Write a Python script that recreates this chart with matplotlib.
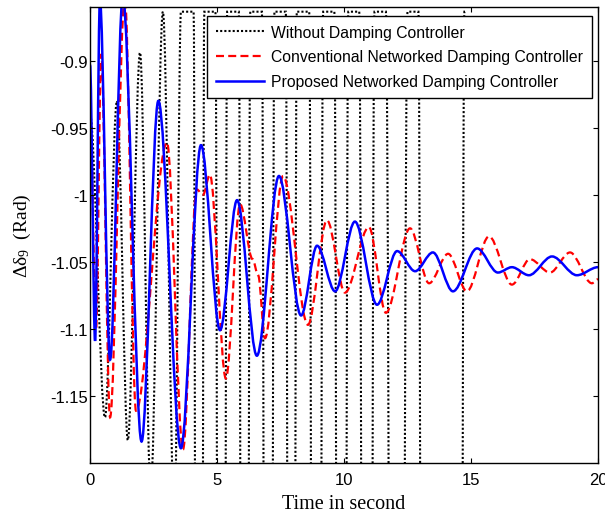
import matplotlib
matplotlib.use("Agg")
import matplotlib.pyplot as plt
from matplotlib.path import Path
from matplotlib.patches import PathPatch

# Turning points (time in s, rotor angle deviation in rad) of each response
t_none = [0.00, 0.59, 1.06, 1.49, 1.97, 2.39, 2.87, 3.33, 3.58,
          4.08, 4.29, 4.50, 4.94, 5.17, 5.40, 5.86, 6.085, 6.31,
          6.77, 7.015, 7.26, 7.71, 7.925, 8.14, 8.63, 8.905, 9.18,
          9.62, 9.895, 10.17, 10.60, 10.90, 11.20, 11.65, 12.075, 12.50,
          12.93, 13.20, 14.47, 14.74, 14.80]
d_none = [-0.940, -1.166, -0.930, -1.183, -0.894, -1.220, -0.8635, -1.2475, -0.8635,
          -0.8635, -3.0, -0.8635, -0.8635, -3.0, -0.8635, -0.8635, -3.0, -0.8635,
          -0.8635, -3.0, -0.8635, -0.8635, -3.0, -0.8635, -0.8635, -3.0, -0.8635,
          -0.8635, -3.0, -0.8635, -0.8635, -3.0, -0.8635, -0.8635, -3.0, -0.8635,
          -0.8635, -3.0, -3.0, -0.8635, -0.8635]

t_conv = [0.00, 0.24, 0.44, 0.79, 1.37, 1.81, 3.03, 3.66, 4.20, 4.45, 4.72,
          5.35, 5.91, 6.40, 6.62, 6.89, 7.60, 8.58, 9.33, 10.04, 10.98, 11.65,
          12.60, 13.35, 14.10, 14.84, 15.71, 16.61, 17.32, 18.11, 18.90, 19.76, 20.00]
d_conv = [-0.937, -1.100, -0.895, -1.166, -0.852, -1.161, -0.961, -1.190, -0.996, -1.000, -0.985,
          -1.137, -1.007, -1.048, -1.060, -1.107, -0.986, -1.097, -1.019, -1.073, -1.024, -1.088,
          -1.025, -1.066, -1.044, -1.072, -1.031, -1.067, -1.048, -1.058, -1.043, -1.066, -1.063]

t_prop = [0.00, 0.20, 0.39, 0.79, 1.29, 2.03, 2.69, 3.58, 4.37, 5.12, 5.79, 6.57,
          7.44, 8.31, 8.94, 9.65, 10.43, 11.30, 12.09, 12.80, 13.50, 14.29, 15.24,
          16.06, 16.61, 17.28, 18.19, 19.17, 20.00]
d_prop = [-0.903, -1.109, -0.855, -1.123, -0.852, -1.184, -0.930, -1.189, -0.963, -1.101, -1.004, -1.120,
          -0.986, -1.090, -1.038, -1.072, -1.020, -1.082, -1.042, -1.057, -1.043, -1.072, -1.040,
          -1.058, -1.054, -1.060, -1.046, -1.060, -1.054]

labels = ["Without Damping Controller",
          "Conventional Networked Damping Controller",
          "Proposed Networked Damping Controller"]
x_ticks = [0, 5, 10, 15, 20]
y_ticks = [-0.9, -0.95, -1.0, -1.05, -1.1, -1.15]
y_tick_labels = ["-0.9", "-0.95", "-1", "-1.05", "-1.1", "-1.15"]

plt.rcParams["font.family"] = ["Liberation Sans", "DejaVu Sans"]
plt.rcParams["mathtext.fontset"] = "custom"
plt.rcParams["mathtext.rm"] = "Liberation Serif"
plt.rcParams["mathtext.it"] = "Liberation Serif:italic"


def smooth_path(t, y):
    """Cubic segments between successive turning points, flat at each turning point."""
    verts = [(t[0], y[0])]
    codes = [Path.MOVETO]
    for i in range(1, len(t)):
        dt = t[i] - t[i - 1]
        verts += [(t[i - 1] + dt / 3.0, y[i - 1]), (t[i] - dt / 3.0, y[i]), (t[i], y[i])]
        codes += [Path.CURVE4] * 3
    return Path(verts, codes)


fig = plt.figure(figsize=(6.05, 5.10), dpi=100)
ax = fig.add_axes([90 / 605, 46 / 510, 508 / 605, 456 / 510])

styles = [
    dict(color="black", lw=1.5, ls=(0, (1, 1))),
    dict(color="#ff0000", lw=1.6, ls=(0, (3.6, 1.9))),
    dict(color="#0000ff", lw=1.8, ls="-"),
]
series = [(t_none, d_none), (t_conv, d_conv), (t_prop, d_prop)]

for (t, d), st, lab in zip(series, styles, labels):
    patch = PathPatch(smooth_path(t, d), fill=False, edgecolor=st["color"],
                      linewidth=st["lw"], linestyle=st["ls"])
    ax.add_patch(patch)
    ax.plot([], [], color=st["color"], lw=st["lw"], ls=st["ls"], label=lab)

ax.set_xlim(0, 20)
ax.set_ylim(-1.2, -0.86)
ax.set_xticks(x_ticks)
ax.set_xticklabels([str(v) for v in x_ticks])
ax.set_yticks(y_ticks)
ax.set_yticklabels(y_tick_labels)
ax.tick_params(direction="in", top=True, right=True, length=3.6, width=0.8,
               labelsize=12, colors="black")
ax.tick_params(axis="x", pad=6.5)
ax.tick_params(axis="y", pad=1.5)
for sp in ax.spines.values():
    sp.set_linewidth(1.0)
    sp.set_color("black")

ax.set_xlabel("Time in second", fontsize=14.5, family="Liberation Serif")
ax.xaxis.set_label_coords(0.5, -0.067)
ax.set_ylabel("Δδ$_9$  (Rad)", fontsize=14, family="Liberation Serif")
ax.yaxis.set_label_coords(-0.113, 0.5)

leg = ax.legend(loc="upper right", bbox_to_anchor=(0.988, 0.980), borderaxespad=0,
                fontsize=11.3, handlelength=3.1, handletextpad=0.45, labelspacing=0.62,
                borderpad=0.55, fancybox=False, framealpha=1, edgecolor="black")
leg.get_frame().set_linewidth(1.0)

fig.savefig("out.png", dpi=100)
